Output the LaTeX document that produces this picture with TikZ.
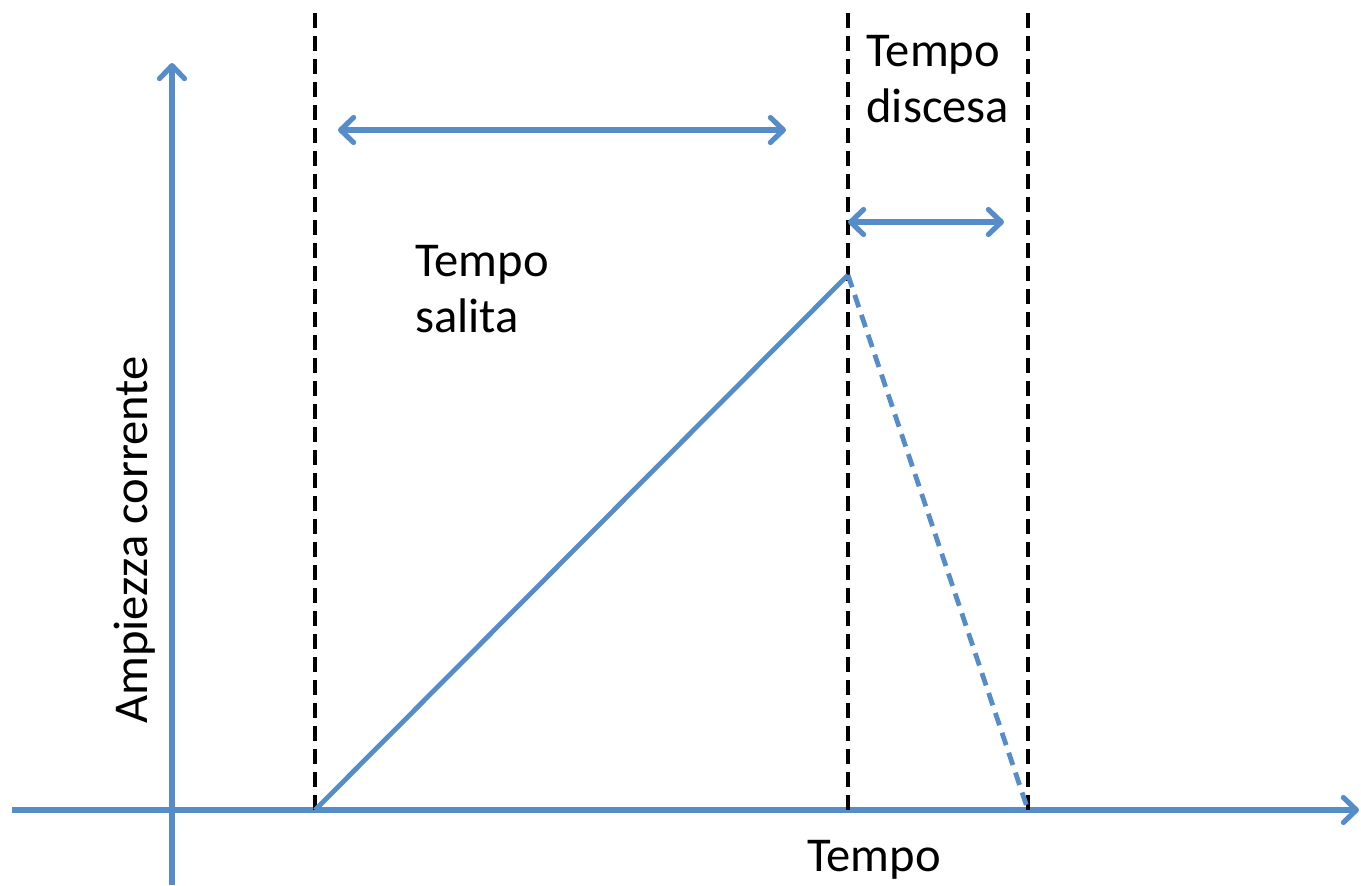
\documentclass[tikz,border=0pt]{standalone}
\usepackage{fontspec}
\setmainfont{Carlito}
\usetikzlibrary{arrows.meta}

\definecolor{ramp}{RGB}{86,140,200}

\begin{document}
\begin{tikzpicture}[x=0.5pt,y=-0.5pt,
  axisline/.style={ramp, line width=2.6pt, -{Straight Barb[length=6.5pt, width=12.5pt, round]}},
  guide/.style={black, line width=2.4pt, dash pattern=on 7.5pt off 4pt},
  span/.style={ramp, line width=2.6pt, {Straight Barb[length=6.5pt, width=12.5pt, round]}-{Straight Barb[length=6.5pt, width=12.5pt, round]}},
  lbl/.style={font=\fontsize{24.3}{28}\selectfont, inner sep=0pt, align=left}]
\useasboundingbox (0,0) rectangle (1361,885);
% axes
\coordinate (xs) at (12,810);
\coordinate (xe) at (1359,810);
\coordinate (ys) at (172,885);
\coordinate (ye) at (172,63);
\draw[axisline] (xs) -- (xe);
\draw[axisline] (ys) -- (ye);
% time markers
\coordinate (t0) at (315,810);
\coordinate (t1) at (848,810);
\coordinate (t2) at (1028,810);
\coordinate (t0top) at (315,10);
\coordinate (t1top) at (848,10);
\coordinate (t2top) at (1028,10);
\draw[guide] (t0) -- (t0top);
\draw[guide] (t1) -- (t1top);
\draw[guide] (t2) -- (t2top);
% current shape
\coordinate (peak) at (848,275);
\draw[ramp, line width=2.4pt] (t0) -- (peak);
\draw[ramp, line width=2.4pt, dash pattern=on 6.5pt off 4pt] (peak) -- (t2);
% durations
\coordinate (sa) at (338,130);
\coordinate (sb) at (786,130);
\coordinate (da) at (848,222);
\coordinate (db) at (1004,222);
\draw[span] (sa) -- (sb);
\draw[span] (da) -- (db);
% labels
\node[lbl, anchor=north west] (salita) at (415,245) {Tempo\\salita};
\node[lbl, anchor=north west] (discesa) at (866,35) {Tempo\\discesa};
\node[lbl, anchor=north] (tempo) at (874,840) {Tempo};
\node[lbl, rotate=90] (ampiezza) at (135,540) {Ampiezza corrente};
\end{tikzpicture}
\end{document}
